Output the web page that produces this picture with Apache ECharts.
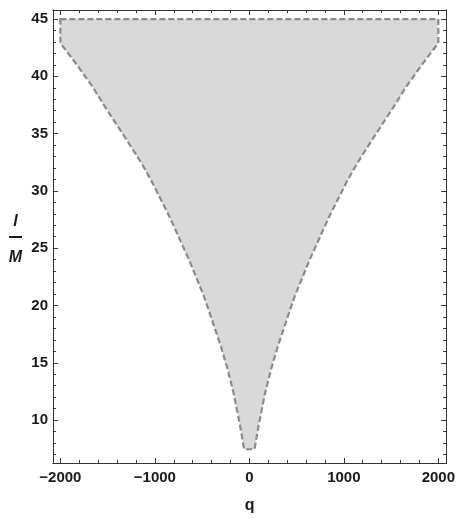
<!DOCTYPE html>
<html><head><meta charset="utf-8">
<script src="https://cdn.jsdelivr.net/npm/echarts@6/dist/echarts.min.js"></script>
<style>html,body{margin:0;padding:0;background:#fff}#c{width:458px;height:519px}</style>
</head><body><div id="c"></div>
<script>
// Tick values
const xMajorTicks = [-2000, -1000, 0, 1000, 2000];
const xMinorTicks = [-2000, -1800, -1600, -1400, -1200, -1000, -800, -600, -400, -200, 0, 200, 400, 600, 800, 1000, 1200, 1400, 1600, 1800, 2000];
const yMajorTicks = [10, 15, 20, 25, 30, 35, 40, 45];
const yMinorTicks = [7, 8, 9, 10, 11, 12, 13, 14, 15, 16, 17, 18, 19, 20, 21, 22, 23, 24, 25, 26, 27, 28, 29, 30, 31, 32, 33, 34, 35, 36, 37, 38, 39, 40, 41, 42, 43, 44, 45];

// Region boundary: top edge (left to right)
const topQ = [-2000, 2000];
const topL = [45, 45];
// Right boundary (top to bottom)
const rightQ = [2000, 1825, 1660, 1505, 1310, 1140, 1040, 866, 828, 705, 636, 478, 400, 300, 232, 165, 100, 55];
const rightL = [42.9, 41.0, 39.1, 37.05, 34.6, 32.4, 30.94, 28.1, 27.45, 25.2, 23.95, 20.75, 18.86, 16.4, 14.5, 12.3, 9.6, 7.45];
// Left boundary (bottom to top)
const leftQ = [-55, -100, -165, -232, -300, -400, -478, -636, -705, -828, -866, -1040, -1140, -1310, -1505, -1660, -1825, -2000];
const leftL = [7.45, 9.6, 12.3, 14.5, 16.4, 18.86, 20.75, 23.95, 25.2, 27.45, 28.1, 30.94, 32.4, 34.6, 37.05, 39.1, 41.0, 42.9];

const boundary = [];
topQ.forEach((q, i) => boundary.push([q, topL[i]]));
rightQ.forEach((q, i) => boundary.push([q, rightL[i]]));
leftQ.forEach((q, i) => boundary.push([q, leftL[i]]));

const XMIN = -2078, XMAX = 2083, YMIN = 6.25, YMAX = 45.79;
const AXC = '#333';
const FONT = 'Liberation Sans, Arial, sans-serif';
const fmtX = v => v < 0 ? '\u2212' + (-v) : String(v);

function xAx(pos, vals, len, withLabels, extra) {
  return Object.assign({
    type: 'value', min: XMIN, max: XMAX, position: pos,
    axisLine: { show: true, onZero: false, lineStyle: { color: AXC, width: 1 } },
    axisTick: { show: true, inside: true, length: len, customValues: vals, lineStyle: { color: AXC, width: 1 } },
    axisLabel: withLabels ? { show: true, customValues: vals, margin: 7, formatter: fmtX,
      color: '#1a1a1a', fontSize: 15, fontWeight: 'bold', fontFamily: FONT } : { show: false },
    splitLine: { show: false }, minorTick: { show: false }
  }, extra || {});
}
function yAx(pos, vals, len, withLabels, extra) {
  return Object.assign({
    type: 'value', min: YMIN, max: YMAX, position: pos,
    axisLine: { show: true, onZero: false, lineStyle: { color: AXC, width: 1 } },
    axisTick: { show: true, inside: true, length: len, customValues: vals, lineStyle: { color: AXC, width: 1 } },
    axisLabel: withLabels ? { show: true, customValues: vals, margin: 5,
      color: '#1a1a1a', fontSize: 15, fontWeight: 'bold', fontFamily: FONT } : { show: false },
    splitLine: { show: false }, minorTick: { show: false }
  }, extra || {});
}

const chart = echarts.init(document.getElementById('c'), null, { renderer: 'canvas' });
chart.setOption({
  animation: false,
  backgroundColor: '#fff',
  grid: { left: 53, right: 5, top: 10, bottom: 56 },
  xAxis: [
    xAx('bottom', xMajorTicks, 5, true, {
      name: 'q', nameLocation: 'middle', nameGap: 35,
      nameTextStyle: { color: '#1a1a1a', fontSize: 16, fontWeight: 'bold', fontFamily: FONT }
    }),
    xAx('bottom', xMinorTicks, 3, false),
    xAx('top', xMajorTicks, 5, false),
    xAx('top', xMinorTicks, 3, false)
  ],
  yAxis: [
    yAx('left', yMajorTicks, 5, true, {
      name: '{a|l}\n{ln|}\n{b|M}', nameLocation: 'middle', nameGap: 31, nameRotate: 0,
      nameTextStyle: {
        padding: [12, 0, 0, 0],
        rich: {
          a: { fontSize: 16, fontWeight: 'bold', fontStyle: 'italic', fontFamily: FONT, color: '#1a1a1a', lineHeight: 29, width: 13, align: 'center' },
          ln: { width: 13, height: 2, backgroundColor: '#1a1a1a' },
          b: { fontSize: 16, fontWeight: 'bold', fontStyle: 'italic', fontFamily: FONT, color: '#1a1a1a', lineHeight: 40, width: 13, align: 'center' }
        }
      }
    }),
    yAx('left', yMinorTicks, 3, false),
    yAx('right', yMajorTicks, 5, false),
    yAx('right', yMinorTicks, 3, false)
  ],
  series: [{
    type: 'custom',
    xAxisIndex: 0, yAxisIndex: 0,
    coordinateSystem: 'cartesian2d',
    data: boundary,
    encode: { x: 0, y: 1 },
    renderItem: function (params, api) {
      if (params.dataIndex !== 0) return null;
      const pts = boundary.map(p => api.coord(p));
      return {
        type: 'polygon',
        shape: { points: pts, smooth: 0 },
        style: { fill: '#d9d9d9', stroke: '#8a8a8a', lineWidth: 2.2, lineDash: [6, 3] }
      };
    },
    z: 1
  }]
});
</script>
</body></html>
